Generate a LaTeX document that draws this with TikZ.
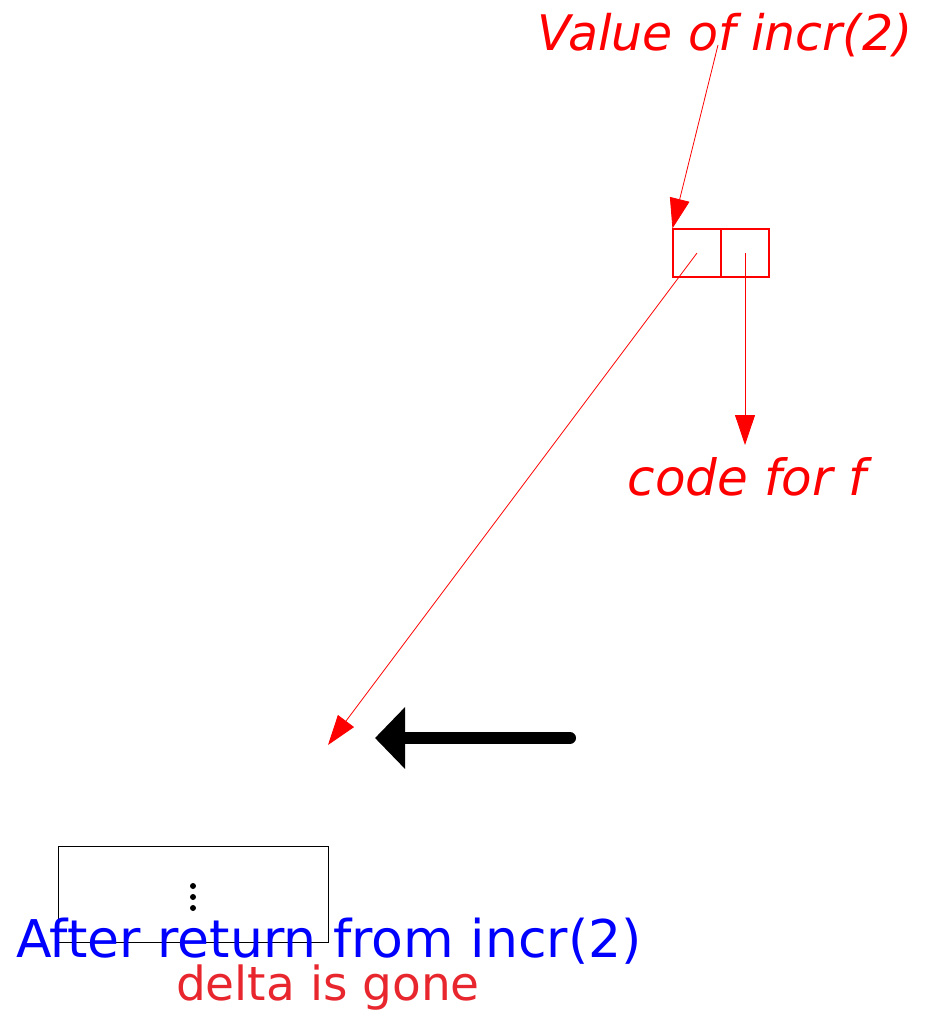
\documentclass[tikz,border=0pt]{standalone}
\usepackage{fontspec}
\setmainfont{DejaVu Sans}
\usetikzlibrary{arrows.meta}
\definecolor{lblred}{RGB}{255,0,0}
\definecolor{gonered}{RGB}{232,38,45}
\begin{document}
\begin{tikzpicture}[x=1pt,y=-1pt,
  redline/.style={draw=lblred,line width=0.8pt},
  redarrow/.style={redline,-{Triangle[length=30pt,width=20pt]}},
  cell/.style={draw=lblred,line width=1.1pt,minimum width=48pt,minimum height=48pt,inner sep=0pt},
  lbl/.style={inner sep=0pt,font=\itshape}]
\useasboundingbox (0,0) rectangle (934,1018);
\node[lbl,text=lblred,font=\fontsize{49}{52}\selectfont\itshape] (val) at (725,35) {Value of incr(2)};
\node[cell] (c1) at (697,253) {};
\node[cell] (c2) at (745,253) {};
\coordinate (p1) at (697,253);
\coordinate (p2) at (745,253);
\coordinate (valend) at (718,45);
\draw[redarrow] (valend) -- (c1.north west);
\node[lbl,text=lblred,font=\fontsize{50}{54}\selectfont\itshape] (code) at (747,477) {code for f};
\coordinate (codetop) at (745,445);
\draw[redarrow] (p2) -- (codetop);
\coordinate (target) at (328,745);
\draw[redarrow] (p1) -- (target);
\coordinate (bstart) at (570,738);
\coordinate (btip) at (375,738);
\draw[line width=12pt,line cap=round,-{Triangle[length=30pt,width=60pt]}] (bstart) -- (btip);
\node[draw=black,line width=0.9pt,minimum width=270pt,minimum height=96pt,inner sep=0pt] (frame) at (193,894) {};
\foreach \yy in {886,897,908} \fill (193,\yy) circle (3pt);
\node[inner sep=0pt,text=blue,font=\fontsize{52}{56}\selectfont] (after) at (329,941) {After return from incr(2)};
\node[inner sep=0pt,text=gonered,font=\fontsize{47}{50}\selectfont] (gone) at (328,988) {delta is gone};
\end{tikzpicture}
\end{document}
